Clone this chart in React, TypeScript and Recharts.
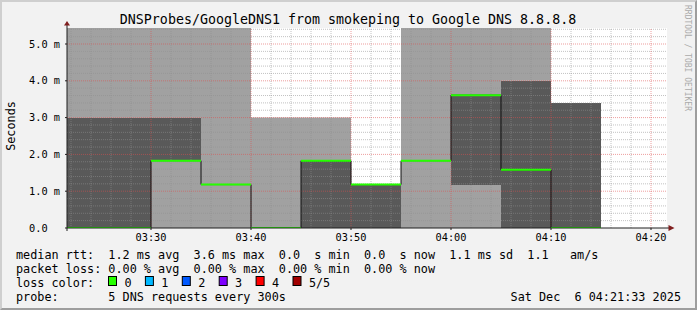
import React from 'react';
import { ComposedChart, Area, Line, XAxis, YAxis, ReferenceLine } from 'recharts';

// minutes after 03:00, start of each 300s step
const stepStart = [20, 25, 30, 35, 40, 45, 50, 55, 60, 65, 70];
const stepLen = 5;
// smoke bands (ms): top of lower light band, top of dark band, top of upper light band
const smokeLow = [0, 0, 1.83, 0, 0, 0, 0, 0, 1.17, 0, 0];
const smokeDark = [3.0, 3.0, 3.0, 0, 0, 1.83, 1.18, 0, 3.61, 4.0, 3.4];
const smokeTop = [5.6, 5.6, 5.6, 5.6, 3.0, 3.0, 1.18, 5.6, 5.6, 5.6, 3.4];
const medianRtt = [0, 0, 1.83, 1.18, 0, 1.83, 1.18, 1.83, 3.61, 1.58, 0];

const timeTicks = [30, 40, 50, 60, 70, 80];
const valueTicks = [0, 1, 2, 3, 4, 5];
const xDomain = [21.6, 81.6];
const yMax = 5.4348;

const lossLabels = ['0', '1', '2', '3', '4', '5/5'];
const lossColors = ['#26ff00', '#00b8ff', '#0059ff', '#7e00ff', '#ff0000', '#a10000'];

const legendRows = [
  'median rtt:  1.2 ms avg  3.6 ms max  0.0  s min  0.0  s now  1.1 ms sd  1.1   am/s',
  'packet loss: 0.00 % avg  0.00 % max  0.00 % min  0.00 % now',
  'loss color:',
  'probe:       5 DNS requests every 300s',
];
const stamp = 'Sat Dec  6 04:21:33 2025';
const title = 'DNSProbes/GoogleDNS1 from smokeping to Google DNS 8.8.8.8';

const MONO = '"DejaVu Sans Mono", monospace';
const LIGHT = '#a1a1a1';
const DARK = '#595959';
const GRID = 'rgba(143,143,143,0.55)';
const MGRID = 'rgba(222,79,79,0.55)';

const table = stepStart.map((t, i) => ({
  t,
  low: smokeLow[i],
  dark: smokeDark[i] - smokeLow[i],
  high: smokeTop[i] - smokeDark[i],
  median: medianRtt[i],
}));
// close the last step so stepAfter draws its full width
table.push({ ...table[table.length - 1], t: stepStart[stepStart.length - 1] + stepLen });

const minorX: number[] = [];
for (let m = 22; m <= 80; m += 2) if (m % 10 !== 0) minorX.push(m);
const minorY: number[] = [];
for (let k = 1; k <= 27; k++) if (k % 5 !== 0) minorY.push(k / 5);

const fmtTime = (m: number) => {
  const h = 3 + Math.floor(m / 60);
  const mm = m % 60;
  return `0${h}:${mm < 10 ? '0' : ''}${mm}`;
};
const fmtValue = (v: number) => (v === 0 ? '0.0\u00a0\u00a0' : `${v.toFixed(1)} m`);

const XArrow = (props: any) => {
  const vb = props.viewBox;
  if (!vb) return null;
  const end = vb.x + vb.width;
  const y = vb.y;
  return (
    <g>
      <line x1={end} y1={y} x2={end + 3} y2={y} stroke="#1f1f1f" />
      <polygon points={`${end + 1.5},${y - 3} ${end + 7.5},${y} ${end + 1.5},${y + 3}`} fill="#801f1f" />
    </g>
  );
};

const YArrow = (props: any) => {
  const vb = props.viewBox;
  if (!vb) return null;
  const x = vb.x + vb.width;
  const top = vb.y;
  const bottom = vb.y + vb.height;
  return (
    <g>
      <line x1={x} y1={top} x2={x} y2={top - 3} stroke="#1f1f1f" />
      <line x1={x} y1={bottom} x2={x} y2={bottom + 3} stroke="#1f1f1f" />
      <polygon points={`${x - 3},${top - 2.5} ${x},${top - 7} ${x + 3},${top - 2.5}`} fill="#801f1f" />
    </g>
  );
};

export default function App() {
  return (
    <div
      style={{
        position: 'absolute',
        left: 0,
        top: 0,
        width: 697,
        height: 310,
        boxSizing: 'border-box',
        background: '#f2f2f2',
        borderTop: '2px solid #cfcfcf',
        borderLeft: '2px solid #cfcfcf',
        borderBottom: '2px solid #9e9e9e',
        borderRight: '2px solid #9e9e9e',
      }}
    >
      <div style={{ position: 'absolute', left: -2, top: -2 }}>
        <ComposedChart width={697} height={310} data={table} margin={{ top: 28, right: 30, bottom: 52, left: 0 }}>
          <rect x={67} y={28} width={600} height={200} fill="#ffffff" />
          <Area dataKey="low" stackId="smoke" type="stepAfter" stroke="none" fill={LIGHT} fillOpacity={1} isAnimationActive={false} activeDot={false} />
          <Area dataKey="dark" stackId="smoke" type="stepAfter" stroke="none" fill={DARK} fillOpacity={1} isAnimationActive={false} activeDot={false} />
          <Area dataKey="high" stackId="smoke" type="stepAfter" stroke="none" fill={LIGHT} fillOpacity={1} isAnimationActive={false} activeDot={false} />
          {minorX.map((m) => (
            <ReferenceLine key={`mx${m}`} x={m} stroke={GRID} strokeDasharray="1 1" />
          ))}
          {minorY.map((v) => (
            <ReferenceLine key={`my${v}`} y={v} stroke={GRID} strokeDasharray="1 1" />
          ))}
          {timeTicks.map((m) => (
            <ReferenceLine key={`Mx${m}`} x={m} stroke={MGRID} strokeDasharray="1 1" />
          ))}
          {valueTicks.slice(1).map((v) => (
            <ReferenceLine key={`My${v}`} y={v} stroke={MGRID} strokeDasharray="1 1" />
          ))}
          <Line dataKey="median" type="stepAfter" stroke="#111111" strokeWidth={1} dot={false} activeDot={false} isAnimationActive={false} />
          {stepStart.map((t, i) => (
            <ReferenceLine
              key={`med${t}`}
              segment={[{ x: t, y: medianRtt[i] }, { x: t + stepLen, y: medianRtt[i] }]}
              stroke="#26ff00"
              strokeWidth={2}
              ifOverflow="hidden"
            />
          ))}
          <XAxis
            dataKey="t"
            type="number"
            domain={xDomain}
            allowDataOverflow
            ticks={timeTicks}
            tickFormatter={fmtTime}
            height={30}
            tickSize={2}
            tickMargin={4}
            axisLine={{ stroke: '#1f1f1f' }}
            tickLine={{ stroke: '#1f1f1f' }}
            tick={{ fontFamily: MONO, fontSize: 10.3, fill: '#000' }}
            label={<XArrow />}
          />
          <YAxis
            type="number"
            domain={[0, yMax]}
            allowDataOverflow
            ticks={valueTicks}
            tickFormatter={fmtValue}
            width={67}
            tickSize={2}
            tickMargin={5}
            axisLine={{ stroke: '#1f1f1f' }}
            tickLine={{ stroke: '#1f1f1f' }}
            tick={{ fontFamily: MONO, fontSize: 10.3, fill: '#000' }}
            label={<YArrow />}
          />
        </ComposedChart>
        <svg width={697} height={310} style={{ position: 'absolute', left: 0, top: 0, pointerEvents: 'none' }}>
          <text x={348} y={24} textAnchor="middle" fontFamily={MONO} fontSize={13.3} fill="#000" style={{ whiteSpace: 'pre' }}>
            {title}
          </text>
          <text transform="translate(15,126) rotate(-90)" textAnchor="middle" fontFamily={MONO} fontSize={11.8} fill="#000">
            Seconds
          </text>
          <text transform="translate(685,5) rotate(90)" fontFamily={MONO} fontSize={8} fill="#aaaaaa" style={{ whiteSpace: 'pre' }}>
            RRDTOOL / TOBI OETIKER
          </text>
          {legendRows.map((row, i) => (
            <text key={i} x={16} y={258.5 + i * 14} fontFamily={MONO} fontSize={11.8} fill="#000" style={{ whiteSpace: 'pre' }}>
              {row}
            </text>
          ))}
          {lossLabels.map((lbl, i) => (
            <g key={lbl}>
              <rect x={108.5 + i * 36.9} y={276.5} width={8} height={9} fill={lossColors[i]} stroke="#000" strokeWidth={1} />
              <text x={124.4 + i * 36.9} y={286.5} fontFamily={MONO} fontSize={11.8} fill="#000">
                {lbl}
              </text>
            </g>
          ))}
          <text x={681} y={300.5} textAnchor="end" fontFamily={MONO} fontSize={11.8} fill="#000" style={{ whiteSpace: 'pre' }}>
            {stamp}
          </text>
        </svg>
      </div>
    </div>
  );
}
